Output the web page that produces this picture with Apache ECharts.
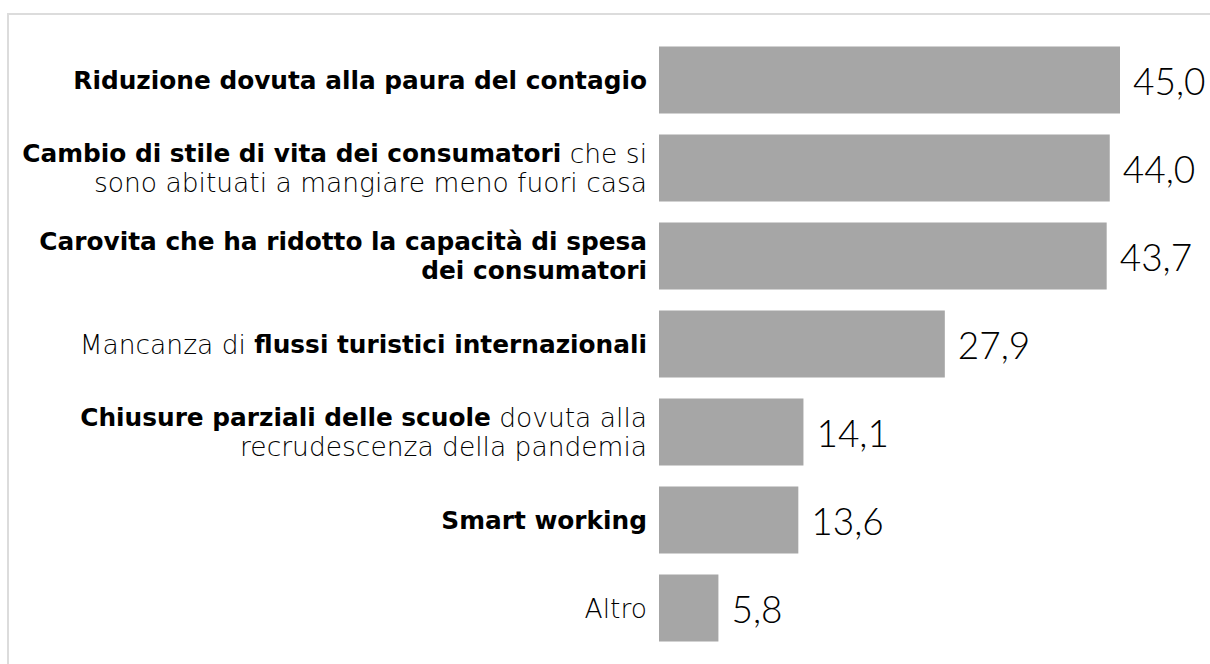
<!DOCTYPE html>
<html>
<head>
<meta charset="utf-8">
<script src="https://cdn.jsdelivr.net/npm/echarts@6/dist/echarts.min.js"></script>
<style>
  html, body { margin: 0; padding: 0; background: #fff; }
  #frame { position: absolute; left: 7px; top: 13px; width: 1220px; height: 670px; border: 2px solid #dcdcdc; }
  #chart { position: absolute; left: 0; top: 0; width: 1210px; height: 664px; }
</style>
</head>
<body>
<div id="frame"></div>
<div id="chart"></div>
<script>
// categories (rich text: b = bold, n = normal)
var categories = [
  '{b|Riduzione dovuta alla paura del contagio}',
  '{b|Cambio di stile di vita dei consumatori}{n| che si}\n{n|sono abituati a mangiare meno fuori casa}',
  '{b|Carovita che ha ridotto la capacità di spesa}\n{b|dei consumatori}',
  '{n|Mancanza di }{b|flussi turistici internazionali}',
  '{b|Chiusure parziali delle scuole}{n| dovuta alla}\n{n|recrudescenza della pandemia}',
  '{b|Smart working}',
  '{n|Altro}'
];
var values = [45.0, 44.0, 43.7, 27.9, 14.1, 13.6, 5.8];

var chart = echarts.init(document.getElementById('chart'), null, { renderer: 'svg' });
chart.setOption({
  animation: false,
  grid: { left: 659, right: 90, top: 36, bottom: 12 },
  xAxis: {
    type: 'value',
    min: 0,
    max: 45,
    show: false
  },
  yAxis: {
    type: 'category',
    inverse: true,
    data: categories,
    axisLine: { show: false },
    axisTick: { show: false },
    axisLabel: {
      margin: 12,
      align: 'right',
      color: '#000',
      lineHeight: 29,
      rich: {
        b: { fontFamily: 'DejaVu Sans', fontWeight: 'bold', fontSize: 24.8, color: '#000', lineHeight: 29 },
        n: { fontFamily: 'DejaVu Sans', fontWeight: 200, fontSize: 26.5, color: '#000', lineHeight: 29 }
      }
    }
  },
  series: [{
    type: 'bar',
    data: values,
    barCategoryGap: '24%',
    itemStyle: { color: '#a6a6a6' },
    label: {
      show: true,
      position: 'right',
      distance: 13,
      color: '#000',
      fontFamily: 'Lato',
      fontWeight: 300,
      fontSize: 37,
      formatter: function (p) { return p.value.toFixed(1).replace('.', ','); }
    }
  }]
});
</script>
</body>
</html>
